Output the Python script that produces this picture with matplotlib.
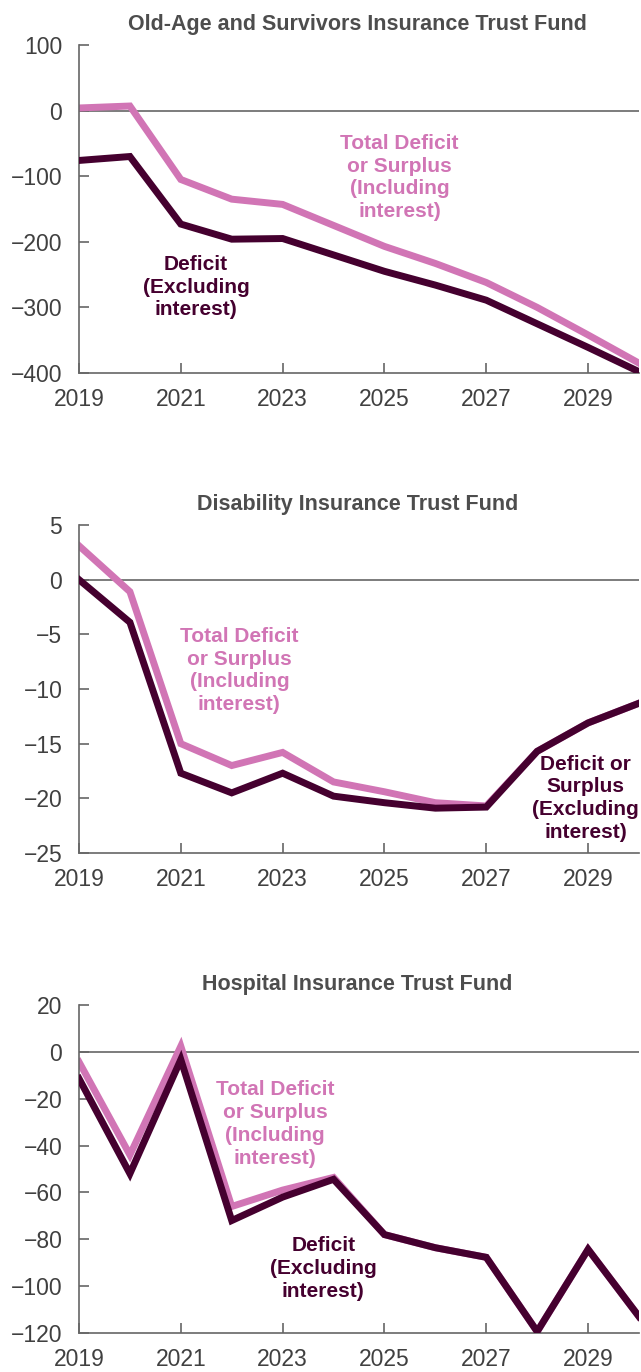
import matplotlib
matplotlib.use("Agg")
import matplotlib.pyplot as plt

years = list(range(2019, 2031))

# Old-Age and Survivors Insurance Trust Fund (billions of dollars)
oasi_total = [4, 7, -105, -135, -143, -175, -207, -233, -262, -300, -342, -385]
oasi_primary = [-76, -70, -173, -196, -195, -220, -245, -266, -289, -325, -361, -398]

# Disability Insurance Trust Fund
di_total = [3.1, -1.1, -15.0, -17.0, -15.8, -18.5, -19.4, -20.4, -20.7, -15.7, -13.1, -11.3]
di_primary = [0.0, -3.9, -17.7, -19.5, -17.7, -19.8, -20.4, -20.9, -20.8, -15.7, -13.1, -11.3]

# Hospital Insurance Trust Fund
hi_total = [-4.3, -44, 2.4, -66, -59, -53.6, -78, -83.6, -87.7, -119.4, -84.3, -113]
hi_primary = [-11.4, -52, -3.3, -72, -62, -54.4, -78, -83.6, -87.7, -119.4, -84.3, -113]

titles = ["Old-Age and Survivors Insurance Trust Fund",
          "Disability Insurance Trust Fund",
          "Hospital Insurance Trust Fund"]
ylims = [(-400, 100), (-25, 5), (-120, 20)]
yticks = [list(range(-400, 101, 100)), list(range(-25, 6, 5)), list(range(-120, 21, 20))]

pink_label = "Total Deficit\nor Surplus\n(Including\ninterest)"
dark_labels = ["Deficit\n(Excluding\ninterest)",
               "Deficit or\nSurplus\n(Excluding\ninterest)",
               "Deficit\n(Excluding\ninterest)"]
pink_pos = [(2025.3, -102), (2022.15, -8.3), (2022.85, -30.8)]
dark_pos = [(2021.3, -269), (2028.95, -20.0), (2023.8, -92.4)]

PINK = "#d175b5"
DARK = "#45002f"
GRAY = "#666666"
fonts = ["Liberation Sans Narrow", "Liberation Sans", "DejaVu Sans"]

fig = plt.figure(figsize=(6.41, 13.72), dpi=100)
tops = [45, 525, 1005]
H = 1372
series = [(oasi_total, oasi_primary), (di_total, di_primary), (hi_total, hi_primary)]

for i in range(3):
    top = 1 - tops[i] / H
    bottom = 1 - (tops[i] + 328) / H
    ax = fig.add_axes([79 / 641, bottom, 560 / 641, top - bottom])
    tot, prim = series[i]
    ax.axhline(0, color=GRAY, lw=1.2, zorder=1)
    ax.plot(years, tot, color=PINK, lw=5, solid_joinstyle="miter", zorder=2)
    ax.plot(years, prim, color=DARK, lw=5, solid_joinstyle="miter", zorder=3)
    ax.set_xlim(2019, 2030)
    ax.set_ylim(*ylims[i])
    ax.set_xticks(range(2019, 2030, 2))
    ax.set_yticks(yticks[i])
    ax.set_yticklabels([str(v).replace("-", "\u2212") for v in yticks[i]])
    for s in ["top", "right"]:
        ax.spines[s].set_visible(False)
    for s in ["left", "bottom"]:
        ax.spines[s].set_color(GRAY)
        ax.spines[s].set_linewidth(1.2)
    ax.tick_params(direction="in", length=7, width=1.2, color=GRAY,
                   labelsize=16.5, labelcolor="#404040")
    ax.tick_params(axis="y", pad=12)
    ax.tick_params(axis="x", pad=11)
    for lab in ax.get_xticklabels() + ax.get_yticklabels():
        lab.set_family(fonts)
    ax.set_title(titles[i], fontsize=15.5, fontweight="bold", color="#4d4d4d",
                 family=fonts, pad=11, x=0.497)
    ax.text(pink_pos[i][0], pink_pos[i][1], pink_label, color=PINK, fontsize=15,
            fontweight="bold", ha="center", va="center", family=fonts,
            linespacing=1.25, zorder=4)
    ax.text(dark_pos[i][0], dark_pos[i][1], dark_labels[i], color=DARK, fontsize=15,
            fontweight="bold", ha="center", va="center", family=fonts,
            linespacing=1.25, zorder=4)

fig.savefig("out.png", dpi=100)
